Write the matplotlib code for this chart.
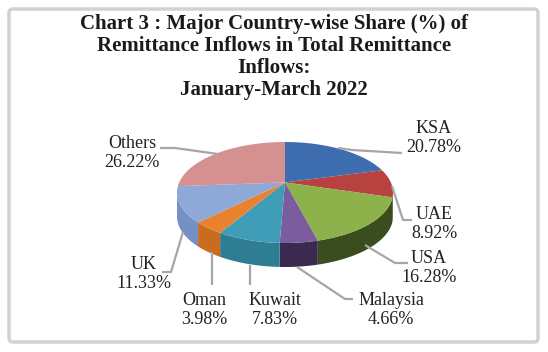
# Chart 3 : country-wise share of remittance inflows, 3D-looking pie
import matplotlib.pyplot as plt
import numpy as np
from matplotlib.patches import Polygon, FancyBboxPatch

countries = ['KSA', 'UAE', 'USA', 'Malaysia', 'Kuwait', 'Oman', 'UK', 'Others']
shares = [20.78, 8.92, 16.28, 4.66, 7.83, 3.98, 11.33, 26.22]

top_colors = ['#3E6DAF', '#B8423F', '#8DB14B', '#7B5D9F', '#3F9DB8',
              '#E8822F', '#8EA9D8', '#D49190']
side_colors = ['#2C4F82', '#7C2A28', '#394D1E', '#3A2A4F', '#2E7D93',
               '#CA6C1F', '#7690C3', '#B07070']

# label centres and leader lines, in pixel coords
label_xy = [(434, 138), (434, 224), (429, 268), (391, 310),
            (275, 310), (204, 310), (144, 274), (132, 153)]
leaders = [
    [(338, 148), (352, 150), (402, 153)],
    [(392, 186), (403, 220), (412, 220)],
    [(365, 245), (395, 263), (408, 263)],
    [(297, 267), (345, 299), (353, 299)],
    [(250, 265), (250, 285)],
    [(212, 252), (212, 285)],
    [(183, 232), (171, 272), (162, 272)],
    [(218, 154), (175, 148), (160, 148)],
]

title = ('Chart 3 : Major Country-wise Share (%) of\n'
         'Remittance Inflows in Total Remittance\n'
         'Inflows:\n'
         'January-March 2022')

W, H = 548, 352
fig = plt.figure(figsize=(W / 100, H / 100), dpi=100)
ax = fig.add_axes([0, 0, 1, 1])
ax.set_xlim(0, W)
ax.set_ylim(H, 0)
ax.axis('off')

# outer frame
frame = FancyBboxPatch((9, 9), W - 19, H - 19,
                       boxstyle='round,pad=0,rounding_size=4',
                       fc='white', ec='#D2D2D2', lw=2.5)
ax.add_patch(frame)

cx, cy, rx, ry, depth = 285, 192.5, 108, 50.5, 24
tilt = 0.2   # perspective: pulls the pie centre towards the back


def persp(t):
    # map true angle (deg) to the angle seen on the ellipse rim
    t = np.radians(t)
    u, v = np.cos(t), np.sin(t)
    den = 1 + tilt * v
    return np.arctan2((v + tilt) / den, u * np.sqrt(1 - tilt ** 2) / den)


def rim(a):
    return cx + rx * np.cos(a), cy - ry * np.sin(a)


# slice angles: start at 12 o'clock, go clockwise
bounds = 90 - np.concatenate([[0], np.cumsum(shares)]) * 3.6
seen = np.unwrap(persp(bounds))
vx, vy = cx, cy - ry * tilt

# side walls (front half only)
for i, col in enumerate(side_colors):
    lo, hi = max(seen[i + 1], -np.pi), min(seen[i], 0)
    if hi <= lo:
        continue
    a = np.linspace(lo, hi, 60)
    xs, ys = rim(a)
    verts = list(zip(xs, ys)) + list(zip(xs[::-1], ys[::-1] + depth))
    ax.add_patch(Polygon(verts, closed=True, fc=col, ec='none'))

# top faces
for i, col in enumerate(top_colors):
    a = np.linspace(seen[i + 1], seen[i], 120)
    xs, ys = rim(a)
    verts = [(vx, vy)] + list(zip(xs, ys))
    ax.add_patch(Polygon(verts, closed=True, fc=col, ec='none'))

# leader lines
for path in leaders:
    px, py = zip(*path)
    ax.plot(px, py, color='#A6A6A6', lw=1.6, solid_capstyle='butt')

for name, val, (x, y) in zip(countries, shares, label_xy):
    ax.text(x, y, f'{name}\n{val:.2f}%', ha='center', va='center',
            fontsize=13, family='Liberation Serif', color='#222222',
            linespacing=1.1)

ax.text(274, 57, title, ha='center', va='center', fontsize=15,
        fontweight='bold', family='Liberation Serif', color='#1a1a1a',
        linespacing=1.12)

plt.savefig('out.png', dpi=100, facecolor='white')
plt.close()
